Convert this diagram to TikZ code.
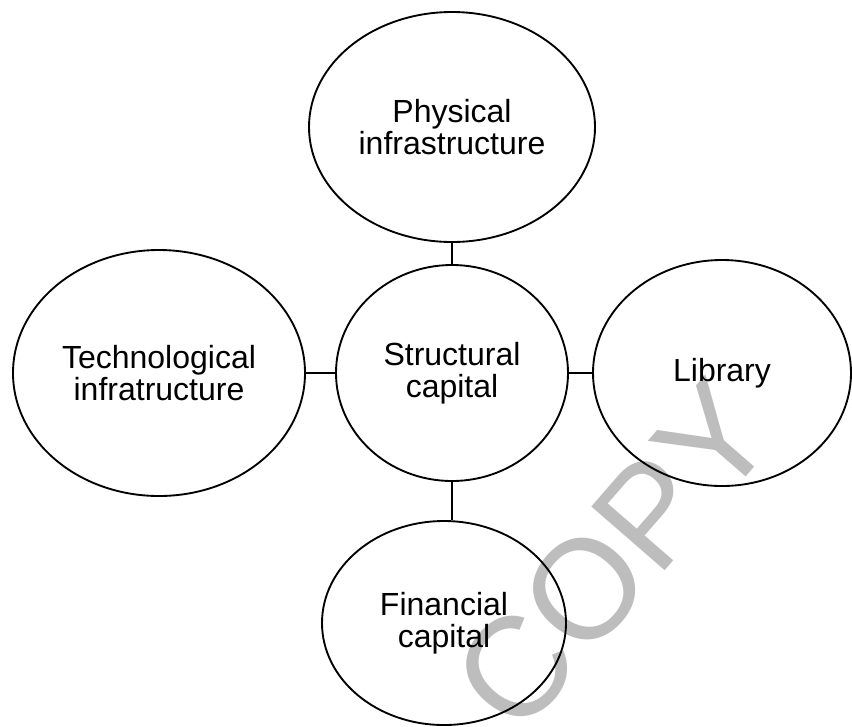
\documentclass[tikz,border=0pt]{standalone}
\usepackage{fontspec}
\setmainfont{Liberation Sans}
\usetikzlibrary{shapes.geometric}

\begin{document}
\begin{tikzpicture}[
    x=0.75pt,
    y=-0.75pt,
    every node/.style={font=\fontsize{24}{24}\selectfont},
    bubble/.style={ellipse, draw=black, line width=1.4pt, inner sep=0pt,
      align=center},
    link/.style={draw=black, line width=1.4pt},
    stamp/.style={text=black!26, font=\fontsize{106}{106}\selectfont, rotate=49}
  ]
    \useasboundingbox (0,0) rectangle (852,726);

    % Watermark behind everything.
    \node[stamp] (copymark) at (613,556) {COPY};

    % Centre and the four surrounding bubbles (sizes in pt = 0.75 px).
    \node[bubble, minimum width=174pt, minimum height=162pt] (struct) at (452,373)
      {Structural\\capital};
    \node[bubble, minimum width=214.5pt, minimum height=172.5pt] (phys) at (452,127)
      {Physical\\infrastructure};
    \node[bubble, minimum width=219pt, minimum height=184.5pt] (tech) at (159,373)
      {Technological\\infratructure};
    \node[bubble, minimum width=193.5pt, minimum height=169.5pt] (lib) at (722,373)
      {Library};
    \node[bubble, minimum width=183pt, minimum height=153pt] (fin) at (444,623)
      {Financial\\capital};

    % Connectors.
    \draw[link] (phys.south) -- (struct.north);
    \draw[link] (tech.east) -- (struct.west);
    \draw[link] (struct.east) -- (lib.west);
    \draw[link] (struct.south) -- (struct.south |- fin.north);
  \end{tikzpicture}
\end{document}
